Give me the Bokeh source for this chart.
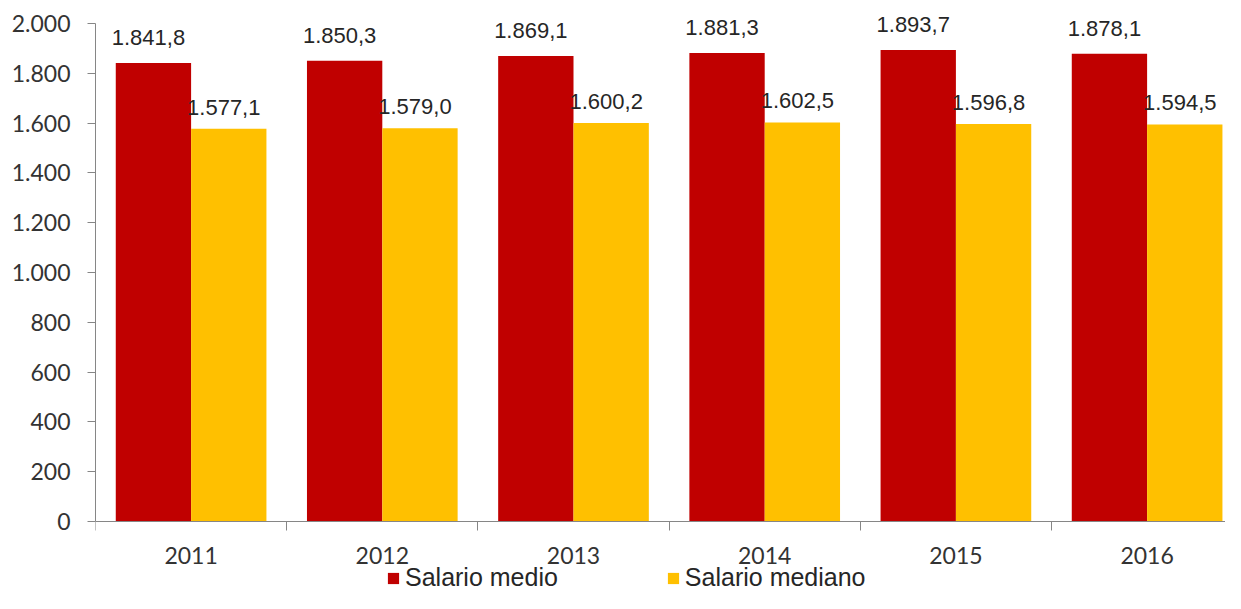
from bokeh.plotting import figure
from bokeh.models import (ColumnDataSource, Range1d, FixedTicker, Legend, LegendItem)
from bokeh.core.properties import value
from bokeh.embed import file_html
from bokeh.resources import INLINE

years = ["2011", "2012", "2013", "2014", "2015", "2016"]
salario_medio = [1841.8, 1850.3, 1869.1, 1881.3, 1893.7, 1878.1]
salario_mediano = [1577.1, 1579.0, 1600.2, 1602.5, 1596.8, 1594.5]
y_ticks = [0, 200, 400, 600, 800, 1000, 1200, 1400, 1600, 1800, 2000]


def es_num(v, dec):
    s = f"{v:,.{dec}f}"
    return s.replace(",", "X").replace(".", ",").replace("X", ".")


centers = [i + 0.5 for i in range(len(years))]
off = 0.197
bw = 0.394

src_m = ColumnDataSource(dict(x=[c - off for c in centers], top=salario_medio,
                              lab=[es_num(v, 1) for v in salario_medio]))
src_d = ColumnDataSource(dict(x=[c + off for c in centers], top=salario_mediano,
                              lab=[es_num(v, 1) for v in salario_mediano]))

W, H = 1225, 593
p = figure(width=W, height=H, output_backend="svg", toolbar_location=None,
           x_range=Range1d(0, 5.91), y_range=Range1d(-289.2, 2092.4),
           min_border_left=95, min_border_right=0, min_border_top=0,
           min_border_bottom=0)
p.outline_line_color = None
p.xgrid.visible = False
p.ygrid.visible = False
p.background_fill_color = "white"
p.border_fill_color = "white"

r1 = p.vbar(x="x", top="top", width=bw, bottom=0, source=src_m,
            fill_color="#C00000", line_color=None)
r2 = p.vbar(x="x", top="top", width=bw, bottom=0, source=src_d,
            fill_color="#FFC000", line_color=None)

p.text(x="x", y="top", text="lab", source=src_m, text_font=value("Liberation Sans"),
       text_font_size=value("22px"), text_color="#262626", text_align="center",
       text_baseline="bottom", x_offset=-5, y_offset=-18)
p.text(x="x", y="top", text="lab", source=src_d, text_font=value("Liberation Sans"),
       text_font_size=value("22px"), text_color="#262626", text_align="center",
       text_baseline="bottom", x_offset=-5, y_offset=-14)

axis_col = "#868686"
# y axis
ya = p.yaxis[0]
ya.ticker = FixedTicker(ticks=y_ticks, minor_ticks=[])
ya.bounds = (0, 2000)
ya.major_label_overrides = {t: es_num(t, 0) for t in y_ticks}
ya.axis_line_color = axis_col
ya.major_tick_line_color = axis_col
ya.major_tick_out = 8
ya.major_tick_in = 0
ya.minor_tick_line_color = None
ya.major_label_standoff = 17
ya.major_label_text_font = "Lato"
ya.major_label_text_font_size = "23px"
ya.major_label_text_color = "#333333"

# x axis, drawn at y = 0 inside the frame
xa = p.xaxis[0]
xa.fixed_location = 0
xa.ticker = FixedTicker(ticks=centers, minor_ticks=[float(i) for i in range(len(years) + 1)])
xa.major_label_overrides = {c: y for c, y in zip(centers, years)}
xa.axis_line_color = axis_col
xa.major_tick_line_color = None
xa.major_tick_out = 0
xa.major_tick_in = 0
xa.minor_tick_line_color = axis_col
xa.minor_tick_out = 9
xa.minor_tick_in = 0
xa.major_label_standoff = 17
xa.major_label_text_font = "Lato"
xa.major_label_text_font_size = "23px"
xa.major_label_text_color = "#333333"

legend = Legend(items=[LegendItem(label="Salario medio", renderers=[r1]),
                       LegendItem(label="Salario mediano", renderers=[r2])],
                orientation="horizontal", location=(291, 1),
                glyph_width=14, glyph_height=14, label_standoff=5, spacing=108,
                padding=0, margin=0, border_line_color=None,
                background_fill_alpha=0,
                label_text_font="Liberation Sans", label_text_font_size="25px",
                label_text_color="#262626")
p.add_layout(legend)

open("out.html", "w").write(file_html(p, INLINE))
